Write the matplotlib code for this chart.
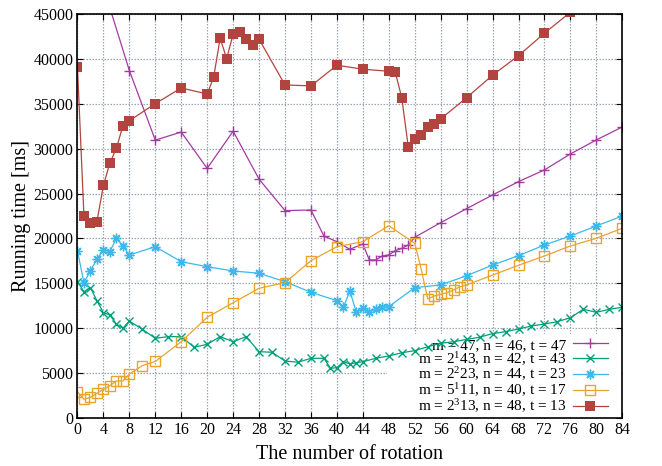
import matplotlib
matplotlib.use('Agg')
import matplotlib.pyplot as plt
from matplotlib.patches import Rectangle

plt.rcParams['font.family'] = ['Liberation Serif', 'DejaVu Serif']
plt.rcParams['mathtext.fontset'] = 'custom'
plt.rcParams['mathtext.rm'] = 'Liberation Serif'
plt.rcParams['mathtext.default'] = 'regular'

# m = 47, n = 46, t = 47
x_47 = [0, 4, 8, 12, 16, 20, 24, 28, 32, 36, 38, 40, 42, 44, 45, 46, 47, 48, 49, 50, 51, 52,
        56, 60, 64, 68, 72, 76, 80, 84]
y_47 = [56000, 48000, 38700, 30950, 31850, 27800, 31950, 26600, 23100, 23170, 20270, 19640,
        18790, 19380, 17600, 17600, 18050, 18160, 18640, 18900, 19270, 20130,
        21760, 23320, 24840, 26330, 27630, 29410, 30970, 32420]

# m = 2^1 43, n = 42, t = 43
x_86 = [0, 1, 2, 3, 4, 5, 6, 7, 8, 10, 12, 14, 16, 18, 20, 22, 24, 26, 28, 30, 32, 34, 36, 38,
        39, 40, 41, 42, 43, 44, 46, 48, 50, 52, 54, 56, 58, 60, 62, 64, 66, 68, 70, 72, 74,
        76, 78, 80, 82, 84]
y_86 = [15190, 14070, 14520, 13070, 11730, 11470, 10470, 9990, 10800, 9880, 8880, 9060, 9060,
        7880, 8210, 9060, 8500, 9060, 7390, 7320, 6350, 6210, 6650, 6650,
        5540, 5600, 6270, 6020, 6160, 6270, 6650, 6910, 7270, 7500, 7940, 8320, 8500, 8750,
        9000, 9400, 9620, 9910, 10250, 10470, 10730, 11170, 12110, 11770, 12110, 12330]

# m = 2^2 23, n = 44, t = 23
x_92 = [0, 1, 2, 3, 4, 5, 6, 7, 8, 12, 16, 20, 24, 28, 32, 36, 40, 41, 42, 43, 44, 45, 46,
        47, 48, 52, 56, 60, 64, 68, 72, 76, 80, 84]
y_92 = [18600, 15070, 16410, 17680, 18720, 18530, 20020, 19160, 18160, 19080, 17410, 16850,
        16380, 16120, 15190, 14000, 13070, 12330, 14150, 11780, 12290, 11840, 12110,
        12330, 12400, 14520, 14820, 15850, 17030, 18080, 19270, 20270, 21390, 22500]

# m = 5^1 11, n = 40, t = 17
x_55 = [0, 1, 2, 3, 4, 5, 6, 7, 8, 10, 12, 16, 20, 24, 28, 32, 36, 40, 44, 48, 52, 53, 54,
        55, 56, 57, 58, 59, 60, 64, 68, 72, 76, 80, 84]
y_55 = [2930, 2080, 2300, 2750, 3200, 3600, 4120, 4120, 4900, 5830, 6300, 8500, 11220,
        12840, 14450, 15070, 17520, 19080, 19640, 21420, 19460, 16560, 13260,
        13590, 13780, 13960, 14260, 14630, 14820, 15920, 17010, 18050, 19160, 20020, 21130]

# m = 2^3 13, n = 48, t = 13
x_104 = [0, 1, 2, 3, 4, 5, 6, 7, 8, 12, 16, 20, 21, 22, 23, 24, 25, 26, 27, 28, 32, 36, 40,
         44, 48, 49, 50, 51, 52, 53, 54, 55, 56, 60, 64, 68, 72, 76, 80, 84]
y_104 = [39130, 22500, 21690, 21870, 25900, 28400, 30040, 32530, 33120, 35010, 36760, 36090,
         37950, 42300, 40030, 42740, 42970, 42190, 41550, 42190, 37100, 36990, 39290,
         38850, 38620, 38510, 35680, 30220, 31050, 31560, 32420, 32750, 33310, 35680,
         38180, 40360, 42860, 45200, 47600, 50000]

labels = ['m = 47, n = 46, t = 47',
          'm = 2$^{1}$43, n = 42, t = 43',
          'm = 2$^{2}$23, n = 44, t = 23',
          'm = 5$^{1}$11, n = 40, t = 17',
          'm = 2$^{3}$13, n = 48, t = 13']

fig = plt.figure(figsize=(6.62, 4.66), dpi=100)
ax = fig.add_axes([0.117, 0.103, 0.823, 0.867])

ax.plot(x_47, y_47, color='#a23ba0', marker='+', ms=7, mew=1.0, lw=0.9, label=labels[0])
ax.plot(x_86, y_86, color='#00a07a', marker='x', ms=6, mew=1.0, lw=0.9, label=labels[1])
ax.plot(x_92, y_92, color='#3cb8ea', marker=(8, 2, 0), ms=7, mew=1.0, lw=0.9, label=labels[2])
ax.plot(x_55, y_55, color='#e8a52c', marker='s', ms=6.5, mfc='none', mew=1.0, lw=0.9,
        label=labels[3])
ax.plot(x_104, y_104, color='#b2443f', marker='s', ms=6.5, mew=0, lw=0.9, label=labels[4])

# white key background, lines still drawn on top of it
ax.add_patch(Rectangle((47.7, 0), 36.3, 9400, facecolor='white', edgecolor='none', zorder=1.5))

ax.set_xlim(0, 84)
ax.set_ylim(0, 45000)
ax.set_xticks(range(0, 85, 4))
ax.set_yticks(range(0, 45001, 5000))
ax.tick_params(direction='in', top=True, right=True, length=4, width=0.8, labelsize=11.5,
               pad=3)
ax.set_axisbelow(True)
ax.grid(True, color='#9ea4b4', linestyle=(0, (1.2, 1.2)), lw=0.9)
for s in ax.spines.values():
    s.set_linewidth(1.2)

ax.set_xlabel('The number of rotation', fontsize=14.5, labelpad=5)
ax.set_ylabel('Running time [ms]', fontsize=14.5, labelpad=2)

leg = ax.legend(loc='lower right', bbox_to_anchor=(0.985, -0.008), frameon=False,
                markerfirst=False, fontsize=11, handlelength=2.3, handletextpad=0.45,
                labelspacing=-0.11, borderaxespad=0.0)
leg.set_zorder(1.6)

fig.savefig('out.png', dpi=100)
